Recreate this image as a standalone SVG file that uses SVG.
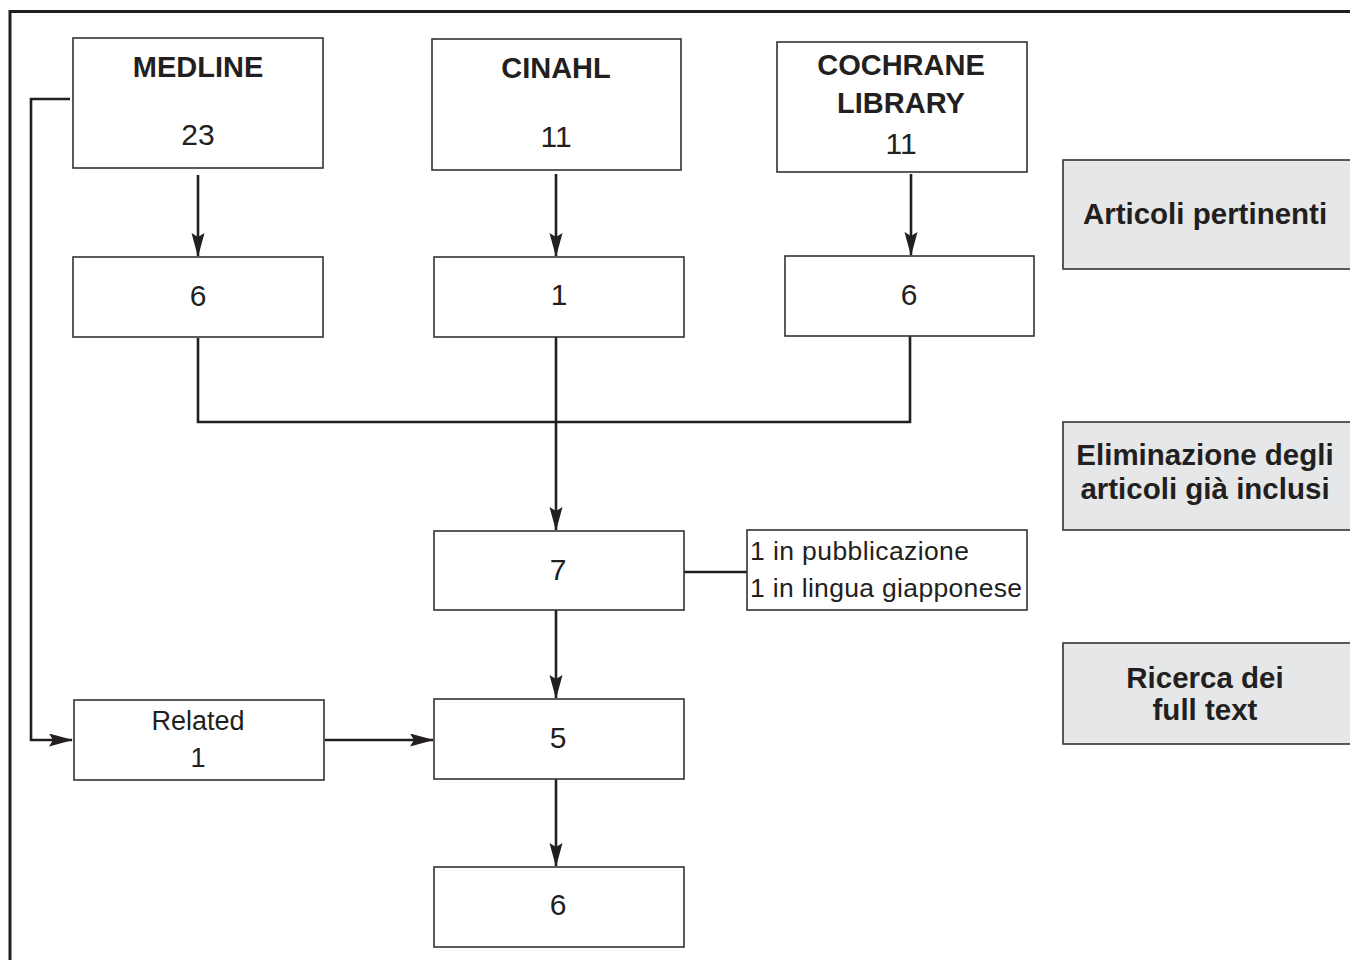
<svg xmlns="http://www.w3.org/2000/svg" width="1350" height="960" viewBox="0 0 1350 960">
<style>
.box{fill:#fff;stroke:#333;stroke-width:1.6}
.gbox{fill:#e6e7e8;stroke:#333;stroke-width:1.6}
.con{fill:none;stroke:#231f20;stroke-width:2.6}
.arr{marker-end:url(#ah)}
.t{font-family:"Liberation Sans",Arial,sans-serif;fill:#231f20;text-anchor:middle}
.b{font-weight:bold;font-size:29px}
.n{font-size:30px}
.s{font-size:26.5px;text-anchor:start}
.g{font-weight:bold;font-size:29.5px}
</style>
<defs>
<marker id="ah" markerUnits="userSpaceOnUse" markerWidth="26" markerHeight="14" refX="23" refY="6.5" orient="auto">
<path d="M0,0 L24,6.5 L0,13 L4,6.5 z" fill="#231f20"/>
</marker>
</defs>
<rect width="1350" height="960" fill="#fff"/>
<g id="frame"><path d="M10,960 V11.5 H1350" fill="none" stroke="#231f20" stroke-width="3"/></g>
<g id="connectors">
<path class="con arr" d="M70,99 H31 V740 H72"/>
<path class="con arr" d="M198,175 V256"/>
<path class="con arr" d="M556,174 V256"/>
<path class="con arr" d="M911,174 V255"/>
<path class="con" d="M198,338 V422 H910 V336"/>
<path class="con arr" d="M556,337 V530"/>
<path class="con" d="M684,572 H747"/>
<path class="con arr" d="M556,610 V698"/>
<path class="con arr" d="M325,740 H433"/>
<path class="con arr" d="M556,779 V866"/>
</g>
<g id="medline"><rect class="box" x="73" y="38" width="250" height="130"/><text class="t b" x="198" y="77">MEDLINE</text><text class="t n" x="198" y="145">23</text></g>
<g id="cinahl"><rect class="box" x="432" y="39" width="249" height="131"/><text class="t b" x="556" y="78">CINAHL</text><text class="t n" x="556" y="147">11</text></g>
<g id="cochrane"><rect class="box" x="777" y="42" width="250" height="130"/><text class="t b" x="901" y="75">COCHRANE</text><text class="t b" x="901" y="113">LIBRARY</text><text class="t n" x="901" y="154">11</text></g>
<g id="medline6"><rect class="box" x="73" y="257" width="250" height="80"/><text class="t n" x="198" y="306">6</text></g>
<g id="cinahl1"><rect class="box" x="434" y="257" width="250" height="80"/><text class="t n" x="559" y="305">1</text></g>
<g id="cochrane6"><rect class="box" x="785" y="256" width="249" height="80"/><text class="t n" x="909" y="305">6</text></g>
<g id="n7"><rect class="box" x="434" y="531" width="250" height="79"/><text class="t n" x="558" y="580">7</text></g>
<g id="excluded"><rect class="box" x="747" y="530" width="280" height="80"/><text class="t s" x="750" y="560" textLength="219">1 in pubblicazione</text><text class="t s" x="750" y="597" textLength="272">1 in lingua giapponese</text></g>
<g id="related"><rect class="box" x="74" y="700" width="250" height="80"/><text class="t n" x="198" y="730" style="font-size:27px">Related</text><text class="t n" x="198" y="767" style="font-size:27px">1</text></g>
<g id="n5"><rect class="box" x="434" y="699" width="250" height="80"/><text class="t n" x="558" y="748">5</text></g>
<g id="n6"><rect class="box" x="434" y="867" width="250" height="80"/><text class="t n" x="558" y="915">6</text></g>
<g id="step1"><rect class="gbox" x="1063" y="160" width="300" height="109"/><text class="t g" x="1205" y="224">Articoli pertinenti</text></g>
<g id="step2"><rect class="gbox" x="1063" y="422" width="300" height="108"/><text class="t g" x="1205" y="465">Eliminazione degli</text><text class="t g" x="1205" y="499">articoli già inclusi</text></g>
<g id="step3"><rect class="gbox" x="1063" y="643" width="300" height="101"/><text class="t g" x="1205" y="688">Ricerca dei</text><text class="t g" x="1205" y="720">full text</text></g>
</svg>
